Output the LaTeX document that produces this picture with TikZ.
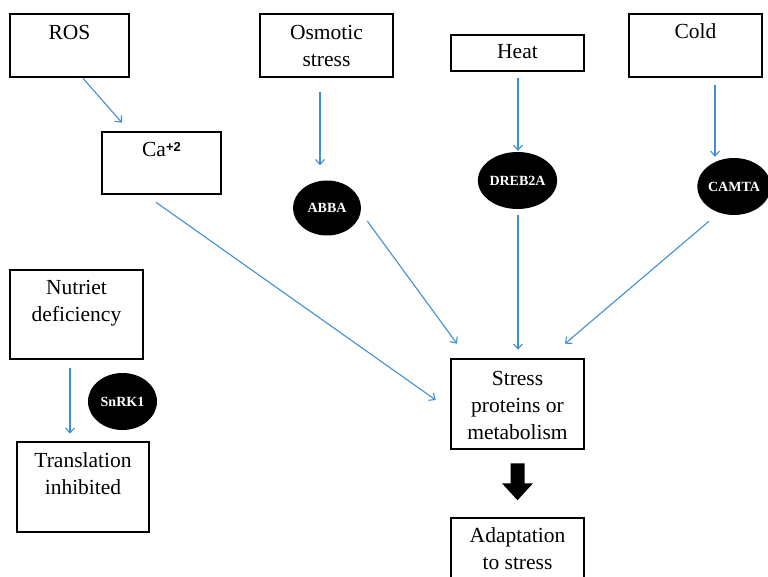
\documentclass[tikz,border=0pt]{standalone}
\usepackage{fontspec}
\setmainfont{Liberation Serif}
\setsansfont{Liberation Sans}
\usetikzlibrary{arrows.meta,shapes.geometric}
\definecolor{flowblue}{RGB}{66,142,212}
\begin{document}
\begin{tikzpicture}[x=1pt,y=-1pt,
  box/.style={draw=black, line width=2.6pt, rectangle, inner sep=0pt},
  boxtext/.style={anchor=north, inner sep=0pt, align=center,
    font=\fontsize{21.5}{27}\selectfont},
  blob/.style={ellipse, fill=black, inner sep=0pt, text=white,
    font=\fontsize{14}{16}\selectfont\bfseries},
  flow/.style={draw=flowblue, line width=1.1pt,
    -{Straight Barb[length=5pt,width=9pt]}},
]
\useasboundingbox (0,0) rectangle (768,577);
\clip (0,0) rectangle (768,577);

% stress sources
\node[box, minimum width=119, minimum height=63] (ros)  at (69.5,45.5)  {};
\node[box, minimum width=133, minimum height=63] (osm)  at (326.5,45.5) {};
\node[box, minimum width=133, minimum height=36] (heat) at (517.5,53)   {};
\node[box, minimum width=133, minimum height=63] (cold) at (695.5,45.5) {};
\node[box, minimum width=119, minimum height=62] (ca)   at (161.5,163)  {};
\node[box, minimum width=133, minimum height=89] (nut)  at (76.5,314.5) {};
\node[box, minimum width=132, minimum height=90] (trans) at (83,487)    {};
\node[box, minimum width=133, minimum height=90] (stress) at (517.5,404) {};
\node[box, minimum width=133, minimum height=90] (adapt) at (517.5,563) {};

% box captions
\node[boxtext] (rosT)   at ([yshift=-12]ros.north)   {ROS};
\node[boxtext] (osmT)   at ([yshift=-12]osm.north)   {Osmotic\\stress};
\node[boxtext] (heatT)  at ([yshift=-11]heat.north)  {Heat};
\node[boxtext] (coldT)  at ([yshift=-11]cold.north)  {Cold};
\node[boxtext] (caT)    at ([yshift=-11]ca.north)
  {Ca\raisebox{5pt}{\sffamily\bfseries\fontsize{13}{13}\selectfont +2}};
\node[boxtext] (nutT)   at ([yshift=-11]nut.north)   {Nutriet\\deficiency};
\node[boxtext] (transT) at ([yshift=-12]trans.north) {Translation\\inhibited};
\node[boxtext] (stressT) at ([yshift=-13]stress.north) {Stress\\proteins or\\metabolism};
\node[boxtext] (adaptT) at ([yshift=-11]adapt.north) {Adaptation\\to stress};

% regulators
\node[blob, minimum width=68, minimum height=55] (abba)  at (327,208)     {ABBA};
\node[blob, minimum width=67, minimum height=57] (dreb)  at (517.5,180.5) {DREB2A};
\node[blob, minimum width=66, minimum height=57] (camta) at (734,186.5)   {CAMTA};
\node[blob, minimum width=69, minimum height=57] (snrk)  at (122.5,401.5) {SnRK1};

% signalling arrows
\draw[flow] ([xshift=13.5]ros.south) -- ([xshift=-39.5,yshift=8]ca.north);
\draw[flow] ([xshift=-6.5,yshift=-14]osm.south) -- ([xshift=-7,yshift=15]abba.north);
\draw[flow] ([xshift=0.5,yshift=-6]heat.south) -- ([xshift=0.5,yshift=1]dreb.north);
\draw[flow] ([xshift=19.5,yshift=-7]cold.south) -- ([xshift=-19,yshift=1]camta.north);
\draw[flow] ([xshift=-5.5,yshift=-7]ca.south) -- ([xshift=-14,yshift=4]stress.west);
\draw[flow] ([xshift=6,yshift=-13]abba.east) -- ([xshift=-60.5,yshift=14]stress.north);
\draw[flow] ([xshift=0.5,yshift=-6]dreb.south) -- ([xshift=0.5,yshift=8]stress.north);
\draw[flow] ([xshift=-25,yshift=-6]camta.south) -- ([xshift=47.5,yshift=14]stress.north);
\draw[flow] ([xshift=-6.5,yshift=-8]nut.south) -- ([xshift=-13,yshift=7]trans.north);

% block arrow towards adaptation
\fill[black] ([xshift=-7,yshift=-13]stress.south) -- ++(14,0) -- ++(0,20)
  -- ++(8.5,0) -- ([yshift=-50]stress.south) -- ++(-15.5,-17) -- ++(8.5,0) -- cycle;
\end{tikzpicture}
\end{document}
